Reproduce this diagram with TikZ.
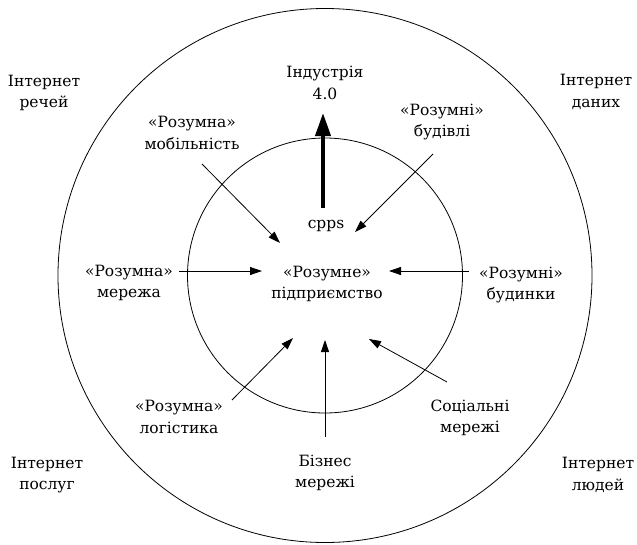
\documentclass[tikz,border=0pt]{standalone}
\usepackage{fontspec}
\setmainfont{DejaVu Serif}
\usetikzlibrary{arrows.meta}
\begin{document}
\begin{tikzpicture}[x=1pt,y=-1pt,
  lbl/.style={inner sep=0pt,align=center,font=\rmfamily\fontsize{15.5}{21.5}\selectfont},
  ring/.style={draw=black,line width=0.8pt},
  thin/.style={draw=black,line width=0.8pt,-{Triangle[length=12pt,width=8pt]}},
  thick/.style={draw=black,line width=4pt,-{Triangle[length=23pt,width=15pt]}}]
\useasboundingbox (0,0) rectangle (637,544);
\coordinate (c) at (325,275.5);
\draw[ring] (c) circle[radius=267];
\draw[ring] (c) circle[radius=137.5];

\node[lbl] (ind) at (325,83) {Індустрія\\4.0};
\node[lbl] (ir) at (44,93) {Інтернет\\речей};
\node[lbl] (id) at (596,92) {Інтернет\\даних};
\node[lbl] (ip) at (47,475) {Інтернет\\послуг};
\node[lbl] (il) at (598,475) {Інтернет\\людей};
\node[lbl] (mob) at (192,133) {«Розумна»\\мобільність};
\node[lbl] (bud) at (442,122) {«Розумні»\\будівлі};
\node[lbl] (cpps) at (326,226) {cpps};
\node[lbl] (ent) at (327,284) {«Розумне»\\підприємство};
\node[lbl] (mer) at (129,283) {«Розумна»\\мережа};
\node[lbl] (bdn) at (521,285) {«Розумні»\\будинки};
\node[lbl] (log) at (179,417) {«Розумна»\\логістика};
\node[lbl] (biz) at (325,473) {Бізнес\\мережі};
\node[lbl] (soc) at (470,418) {Соціальні\\мережі};

\coordinate (t0) at (323,208);
\coordinate (t1) at (323,113);
\coordinate (m0) at (202,164);
\coordinate (m1) at (280,243);
\coordinate (b0) at (433,154);
\coordinate (b1) at (355,232);
\coordinate (r0) at (179,271);
\coordinate (r1) at (262,271);
\coordinate (h0) at (469,271);
\coordinate (h1) at (389,271);
\coordinate (l0) at (232,400);
\coordinate (l1) at (293,338);
\coordinate (z0) at (325,437);
\coordinate (z1) at (325,340);
\coordinate (s0) at (447,382);
\coordinate (s1) at (369,339);

\draw[thick] (t0) -- (t1);
\draw[thin] (m0) -- (m1);
\draw[thin] (b0) -- (b1);
\draw[thin] (r0) -- (r1);
\draw[thin] (h0) -- (h1);
\draw[thin] (l0) -- (l1);
\draw[thin] (z0) -- (z1);
\draw[thin] (s0) -- (s1);
\end{tikzpicture}
\end{document}
